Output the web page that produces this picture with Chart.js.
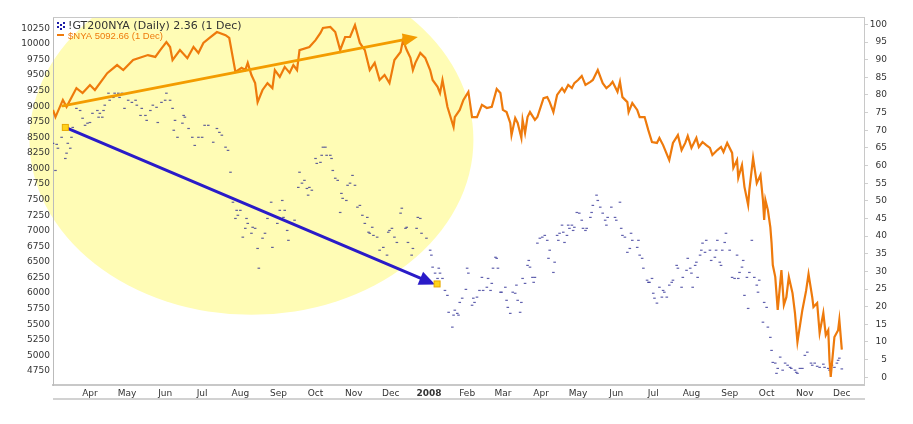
<!DOCTYPE html>
<html>
<head>
<meta charset="utf-8">
<script src="https://cdn.jsdelivr.net/npm/chart.js@4.4.1/dist/chart.umd.min.js"></script>
<style>
  html, body { margin: 0; padding: 0; background: #fff; }
  #chart { display: block; }
</style>
</head>
<body>
<canvas id="chart" width="913" height="424"></canvas>
<script>
// x values are calendar days counted from 1 Mar 2007
const tickDays = [31, 61, 92, 122, 153, 184, 214, 245, 275, 306, 337, 366, 397, 427, 458, 488, 519, 550, 580, 611, 641];
const tickLabels = ['Apr', 'May', 'Jun', 'Jul', 'Aug', 'Sep', 'Oct', 'Nov', 'Dec', '2008', 'Feb', 'Mar', 'Apr', 'May', 'Jun', 'Jul', 'Aug', 'Sep', 'Oct', 'Nov', 'Dec'];
const nyaTicks = [4750, 5000, 5250, 5500, 5750, 6000, 6250, 6500, 6750, 7000, 7250, 7500, 7750, 8000, 8250, 8500, 8750, 9000, 9250, 9500, 9750, 10000, 10250];
const pctTicks = [0, 5, 10, 15, 20, 25, 30, 35, 40, 45, 50, 55, 60, 65, 70, 75, 80, 85, 90, 95, 100];

// $NYA close
const nyaDay = [
  1, 3, 9, 12, 20, 25, 31, 35, 45, 53,
  58, 66, 78, 84, 88, 93, 96, 98, 104, 110,
  115, 119, 123, 128, 134, 141, 144, 149, 154, 157,
  159, 162, 165, 167, 171, 175, 179, 181, 185, 189,
  193, 196, 199, 201, 209, 214, 218, 220, 226, 230,
  234, 238, 242, 246, 250, 254, 258, 262, 266, 270,
  274, 278, 283, 285, 288, 291, 293, 295, 299, 303,
  307, 309, 313, 315, 317, 321, 326, 327, 331, 334,
  338, 341, 345, 349, 353, 357, 361, 364, 366, 369,
  372, 373, 376, 378, 381, 382, 384, 386, 388, 392,
  394, 399, 402, 404, 407, 410, 414, 416, 419, 422,
  424, 427, 430, 433, 437, 439, 443, 447, 450, 453,
  455, 459, 461, 463, 467, 468, 471, 475, 477, 481,
  484, 487, 491, 493, 496, 501, 504, 508, 511, 514,
  516, 519, 523, 525, 528, 531, 534, 536, 540, 543,
  545, 548, 552, 553, 556, 557, 560, 562, 565, 566,
  569, 572, 575, 577, 578, 579, 581, 583, 584, 585,
  587, 589, 592, 594, 596, 598, 601, 603, 605, 609,
  612, 614, 617, 618, 621, 623, 626, 628, 630, 631,
  632, 635, 638, 639, 641
];
const nyaClose = [
  8940, 8825, 9100, 8990, 9290, 9210, 9340, 9260, 9530, 9660,
  9580, 9740, 9820, 9790, 9900, 10030, 9950, 9740, 9900, 9770,
  9950, 9855, 10015, 10095, 10190, 10140, 10095, 9550, 9615, 9580,
  9695, 9500, 9370, 9065, 9260, 9370, 9290, 9580, 9470, 9630,
  9535, 9660, 9580, 9900, 9950, 10060, 10175, 10255, 10270, 10190,
  9900, 10110, 10110, 10300, 10015, 9900, 9580, 9695, 9420, 9500,
  9370, 9740, 9870, 10060, 9900, 9775, 9580, 9695, 9855, 9775,
  9580, 9420, 9310, 9210, 9420, 8990, 8665, 8825, 8940, 9100,
  9230, 8825, 8825, 9020, 8970, 8990, 9275, 9210, 8940, 8905,
  8730, 8535, 8810, 8730, 8490, 8780, 8570, 8825, 8905, 8780,
  8825, 9130, 9145, 9065, 8905, 9180, 9290, 9230, 9340, 9290,
  9370, 9420, 9485, 9340, 9390, 9420, 9580, 9370, 9290, 9340,
  9390, 9230, 9390, 9145, 9065, 8905, 9050, 8940, 8825, 8825,
  8615, 8425, 8410, 8490, 8375, 8135, 8410, 8535, 8295, 8410,
  8520, 8330, 8490, 8345, 8425, 8375, 8330, 8215, 8295, 8345,
  8265, 8410, 8250, 8010, 8135, 7850, 8055, 7705, 7415, 7655,
  8170, 7765, 7895, 7495, 7175, 7495, 7335, 7060, 6805, 6450,
  6260, 5730, 6370, 5810, 5935, 6260, 6000, 5680, 5215, 5730,
  6035, 6305, 5935, 5775, 5840, 5360, 5680, 5325, 5405, 4925,
  4655, 5295, 5405, 5570, 5093
];

// !GT200NYA, percent of NYSE stocks above their 200-day average
const gtDay = [
  1, 3, 4, 5, 8, 11, 12, 13, 15, 16,
  17, 20, 23, 25, 27, 29, 31, 33, 37, 38,
  39, 41, 42, 43, 46, 47, 50, 51, 54, 55,
  57, 59, 62, 65, 68, 69, 72, 73, 76, 77,
  80, 82, 85, 86, 89, 92, 93, 96, 98, 99,
  100, 102, 106, 107, 108, 111, 114, 116, 119, 122,
  124, 127, 131, 134, 136, 138, 141, 143, 145, 147,
  149, 150, 151, 153, 155, 157, 158, 159, 162, 163,
  165, 167, 168, 171, 173, 175, 178, 179, 183, 185,
  187, 188, 189, 191, 192, 195, 197, 200, 201, 203,
  205, 207, 208, 209, 211, 214, 215, 218, 219, 220,
  222, 223, 226, 227, 228, 230, 232, 234, 235, 236,
  239, 240, 242, 244, 246, 248, 250, 252, 254, 256,
  257, 258, 260, 261, 264, 266, 269, 272, 273, 274,
  276, 278, 280, 283, 284, 287, 288, 289, 292, 293,
  296, 297, 299, 300, 304, 307, 308, 309, 311, 313,
  314, 315, 317, 319, 321, 322, 325, 326, 327, 329,
  330, 331, 333, 336, 337, 338, 341, 342, 343, 345,
  347, 349, 350, 353, 354, 356, 357, 358, 360, 361,
  362, 364, 365, 368, 369, 370, 372, 374, 376, 377,
  378, 380, 381, 382, 384, 386, 387, 388, 390, 391,
  392, 394, 396, 398, 400, 402, 403, 404, 407, 408,
  410, 411, 412, 414, 415, 416, 418, 419, 420, 422,
  423, 424, 426, 428, 430, 431, 433, 434, 437, 438,
  439, 442, 443, 445, 447, 449, 450, 451, 454, 457,
  458, 461, 462, 463, 465, 467, 469, 470, 471, 475,
  476, 477, 479, 480, 483, 484, 485, 487, 488, 489,
  491, 493, 495, 496, 497, 499, 501, 503, 504, 507,
  508, 511, 512, 515, 516, 518, 519, 520, 522, 523,
  524, 526, 527, 528, 530, 531, 534, 535, 538, 539,
  540, 542, 543, 544, 546, 547, 550, 552, 554, 556,
  557, 558, 560, 561, 562, 564, 565, 566, 568, 570,
  572, 573, 574, 577, 578, 580, 581, 583, 584, 585,
  587, 588, 589, 591, 593, 595, 597, 599, 600, 603,
  604, 605, 607, 609, 611, 613, 616, 617, 619, 621,
  623, 626, 627, 630, 631, 633, 635, 637, 638, 639,
  641
];
const gtPct = [
  66.3, 58.6, 66, 64.9, 68, 62, 63.5, 66.3, 64.9, 68,
  70.8, 76.2, 75.6, 73.4, 71.4, 72, 72.2, 74.8, 75.6, 73.7,
  74.8, 73.7, 75.6, 77.1, 80.5, 78.5, 79.3, 80.5, 80.5, 79.3,
  80.5, 76.2, 78.5, 77.9, 78.5, 77.1, 74.2, 76.2, 74.2, 72.8,
  75.6, 77.1, 76.5, 72.2, 77.9, 78.5, 80.5, 78.5, 76.2, 70,
  72.8, 68, 72, 74.2, 73.7, 70.5, 68, 65.7, 68, 68,
  71.4, 71.4, 66.6, 70.5, 69.4, 68.6, 65.2, 64.3, 58.1, 49.6,
  45, 47.3, 45.9, 47.3, 39.7, 42.2, 45, 43.6, 40.8, 42.5,
  42.2, 36.5, 30.9, 39.4, 40.8, 45, 49.6, 36.8, 43.6, 47.3,
  50.1, 45.3, 47.3, 41.6, 38.8, 43.6, 44.5, 53.8, 58.1, 55,
  55.8, 53.5, 51.6, 53.8, 53, 62, 60.6, 60.9, 62.9, 65.2,
  65.2, 62.9, 62.9, 62, 58.6, 56.4, 55.8, 46.7, 52.1, 50.7,
  50.1, 54.4, 55, 57.2, 54.4, 48.2, 48.7, 45.9, 43.6, 45.3,
  41.1, 40.8, 42.5, 40.2, 39.7, 36, 36.8, 34.6, 41.1, 41.6,
  42.2, 39.7, 38.2, 46.5, 47.9, 42.2, 42.5, 38.2, 34.6, 36.5,
  42.2, 45.3, 45, 40.8, 39.4, 36, 34.6, 31.2, 29.5, 28,
  30.9, 29.5, 28, 24.6, 23.2, 18.4, 14.2, 17.6, 19, 18.1,
  17.6, 21.2, 22.4, 24.9, 30.9, 29.5, 20.4, 22.4, 21.2, 22.7,
  24.6, 28.3, 24.6, 25.5, 28, 24.6, 26.6, 30.9, 34, 33.7,
  30.9, 24.1, 24.1, 25.5, 21.8, 19.8, 18.1, 24.1, 23.8, 26.1,
  21.8, 18.4, 21.2, 28, 26.6, 31.7, 33.1, 31.2, 28.3, 26.9,
  28.3, 38, 39.4, 39.7, 40.2, 38.8, 33.7, 36, 29.7, 32.6,
  40.2, 38.8, 40.8, 43.1, 41.1, 38.2, 40.2, 43.1, 42.2, 43.1,
  41.6, 42.5, 46.7, 46.5, 44.5, 42.2, 41.6, 42.2, 45.3, 46.7,
  48.7, 51.6, 50.1, 48.2, 46.5, 44.5, 43.1, 45.3, 48.2, 45.3,
  44.5, 49.6, 42.2, 40.2, 39.7, 35.4, 36.5, 40.8, 38.8, 36.8,
  38.8, 34.6, 33.7, 30.9, 27.5, 26.9, 26.9, 28, 23.8, 22.4,
  21, 25.5, 22.7, 24.6, 24.1, 22.7, 26.1, 26.9, 27.5, 31.7,
  30.9, 25.5, 28.3, 30.3, 33.7, 30.9, 29.5, 25.5, 31.7, 32.6,
  28.3, 34.6, 36, 38, 35.4, 38.8, 36, 33.1, 34, 36,
  38.8, 32.6, 31.7, 36, 38.2, 40.8, 36, 28.3, 28, 34.6,
  28, 29.7, 31.2, 33.1, 23.2, 28.3, 19.5, 29.7, 38.8, 28.3,
  26.1, 24.1, 27.5, 15.6, 21.2, 19.8, 14.2, 11.3, 7.6, 4.2,
  4, 1.1, 2.5, 5.7, 2, 4, 3.4, 2.8, 2.5, 2,
  1.4, 1.1, 2.5, 2.5, 6.2, 7.1, 4, 3.4, 4, 3.1,
  2.8, 3.7, 2.8, 2.5, 2, 3.4, 2.8, 4, 4.8, 5.4,
  2.36
];

const nyaPoints = nyaDay.map((d, i) => ({ x: d, y: nyaClose[i] }));
const gtPoints = gtDay.map((d, i) => ({ x: d, y: gtPct[i] }));

const tickFont = { family: 'DejaVu Sans', size: 9 };

function drawArrow(ctx, x1, y1, x2, y2, color, width, headLen, headHalf) {
  const ang = Math.atan2(y2 - y1, x2 - x1);
  const bx = x2 - headLen * Math.cos(ang);
  const by = y2 - headLen * Math.sin(ang);
  ctx.strokeStyle = color;
  ctx.lineWidth = width;
  ctx.lineCap = 'round';
  ctx.beginPath();
  ctx.moveTo(x1, y1);
  ctx.lineTo(bx, by);
  ctx.stroke();
  ctx.fillStyle = color;
  ctx.beginPath();
  ctx.moveTo(x2, y2);
  ctx.lineTo(bx + headHalf * Math.sin(ang), by - headHalf * Math.cos(ang));
  ctx.lineTo(bx - headHalf * Math.sin(ang), by + headHalf * Math.cos(ang));
  ctx.closePath();
  ctx.fill();
}

function marker(ctx, x, y) {
  ctx.fillStyle = '#FFD21A';
  ctx.strokeStyle = '#E8A800';
  ctx.lineWidth = 1;
  ctx.fillRect(x - 3, y - 3, 6, 6);
  ctx.strokeRect(x - 3, y - 3, 6, 6);
}

const overlay = {
  id: 'overlay',
  beforeDraw(chart) {
    const { ctx, chartArea: a, scales } = chart;
    // yellow highlight ellipse, cut at the top edge of the plot
    ctx.save();
    ctx.beginPath();
    ctx.rect(0, a.top, chart.width, chart.height - a.top);
    ctx.clip();
    ctx.beginPath();
    ctx.ellipse(scales.x.getPixelForValue(162), scales.yNya.getPixelForValue(8460), 222, 175, 0, 0, Math.PI * 2);
    ctx.fillStyle = '#FFFCB5';
    ctx.fill();
    ctx.restore();
  },
  afterDatasetsDraw(chart) {
    const { ctx, scales } = chart;
    const x = scales.x, yL = scales.yNya, yR = scales.yPct;
    ctx.save();
    drawArrow(ctx, x.getPixelForValue(9), yL.getPixelForValue(9005),
      x.getPixelForValue(297), yL.getPixelForValue(10110), '#F39C00', 3, 15, 6.5);
    const bx1 = x.getPixelForValue(11), by1 = yR.getPixelForValue(70.8);
    const bx2 = x.getPixelForValue(311), by2 = yR.getPixelForValue(26.3);
    drawArrow(ctx, bx1, by1, bx2, by2, '#2A1BC8', 3, 16, 7);
    marker(ctx, bx1, by1);
    marker(ctx, bx2 + 2, by2 - 0.5);
    ctx.restore();
  },
  afterDraw(chart) {
    const { ctx, chartArea: a } = chart;
    ctx.save();
    // frame top line and lower band line
    ctx.strokeStyle = '#c8c8c8';
    ctx.lineWidth = 1;
    ctx.beginPath();
    ctx.moveTo(a.left, a.top + 0.5);
    ctx.lineTo(a.right, a.top + 0.5);
    ctx.stroke();
    ctx.strokeStyle = '#d2d2d2';
    ctx.lineWidth = 2;
    ctx.beginPath();
    ctx.moveTo(a.left, a.bottom + 14);
    ctx.lineTo(a.right + 1, a.bottom + 14);
    ctx.stroke();

    // legend
    const lx = a.left + 4;
    ctx.fillStyle = '#1c1ca8';
    [[0, 0], [3, 2], [6, 0], [0, 4], [6, 4], [3, 6]].forEach(p => ctx.fillRect(lx + p[0], a.top + 5 + p[1], 2, 2));
    ctx.font = '11px "DejaVu Sans"';
    ctx.fillStyle = '#333';
    ctx.textBaseline = 'alphabetic';
    ctx.fillText('!GT200NYA (Daily) 2.36 (1 Dec)', a.left + 15, a.top + 12.3);
    ctx.strokeStyle = '#EE7A0C';
    ctx.lineWidth = 2;
    ctx.beginPath();
    ctx.moveTo(lx, a.top + 18);
    ctx.lineTo(lx + 7, a.top + 18);
    ctx.stroke();
    ctx.font = '9.5px "Liberation Sans"';
    ctx.fillStyle = '#EE7A0C';
    ctx.fillText('$NYA 5092.66 (1 Dec)', a.left + 15, a.top + 22.3);
    ctx.restore();
  }
};

new Chart(document.getElementById('chart'), {
  type: 'line',
  data: {
    datasets: [
      {
        label: '$NYA',
        data: nyaPoints,
        yAxisID: 'yNya',
        borderColor: '#EE7A0C',
        borderWidth: 2.2,
        pointRadius: 0,
        tension: 0
      },
      {
        label: '!GT200NYA',
        data: gtPoints,
        yAxisID: 'yPct',
        showLine: false,
        pointStyle: 'line',
        pointRadius: 1.3,
        pointBorderWidth: 1.2,
        borderColor: 'rgba(30, 30, 140, 0.7)',
        backgroundColor: 'rgba(30, 30, 140, 0.7)'
      }
    ]
  },
  options: {
    responsive: false,
    animation: false,
    layout: { padding: { top: 17, left: 0, right: 26, bottom: 0 } },
    plugins: { legend: { display: false }, tooltip: { enabled: false } },
    scales: {
      x: {
        type: 'linear',
        min: 1,
        max: 659,
        afterBuildTicks: s => { s.ticks = tickDays.map(v => ({ value: v })); },
        afterFit: s => { s.height = 39; },
        grid: { display: false, drawTicks: false },
        border: { color: '#c8c8c8', width: 2 },
        ticks: {
          autoSkip: false,
          maxRotation: 0,
          padding: 3,
          color: '#333',
          font: c => ({ family: 'DejaVu Sans', size: 9, weight: (c.tick && c.tick.value === 306) ? 'bold' : 'normal' }),
          callback: v => tickLabels[tickDays.indexOf(v)]
        }
      },
      yNya: {
        position: 'left',
        min: 4525,
        max: 10431,
        afterBuildTicks: s => { s.ticks = nyaTicks.map(v => ({ value: v })); },
        afterFit: s => { s.width = 53; },
        grid: { display: false, drawTicks: false },
        border: { color: '#bbb', width: 1 },
        ticks: { padding: 3, color: '#333', font: tickFont, callback: v => String(v) }
      },
      yPct: {
        position: 'right',
        min: -2.2,
        max: 102.1,
        afterBuildTicks: s => { s.ticks = pctTicks.map(v => ({ value: v })); },
        afterFit: s => { s.width = 23; },
        grid: { drawOnChartArea: false, drawTicks: true, tickLength: 4, color: '#cfcfcf' },
        border: { color: '#c8c8c8', width: 1 },
        ticks: { padding: 1, crossAlign: 'far', color: '#333', font: tickFont, callback: v => String(v) }
      }
    }
  },
  plugins: [overlay]
});
</script>
</body>
</html>
